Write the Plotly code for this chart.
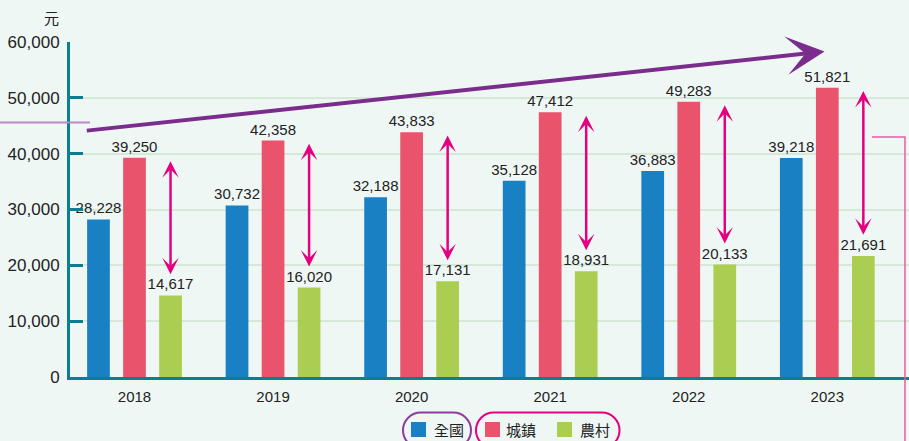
import plotly.graph_objects as go

# ---- data ----
years = ["2018", "2019", "2020", "2021", "2022", "2023"]
national = [28228, 30732, 32188, 35128, 36883, 39218]
urban = [39250, 42358, 43833, 47412, 49283, 51821]
rural = [14617, 16020, 17131, 18931, 20133, 21691]
series_names = ["全國", "城鎮", "農村"]
y_ticks = [0, 10000, 20000, 30000, 40000, 50000, 60000]
unit_label = "元"

# ---- style ----
BG = "#eff7f5"
BLUE = "#1a80c4"
RED = "#e9536c"
GREEN = "#abce52"
TEAL = "#0b7e92"
GRID = "#d6e9d8"
PINK = "#e4007f"
PURPLE = "#7b2d8d"
TXT = "#222222"
FONT = "Liberation Sans, Arial, Noto Sans CJK TC, sans-serif"
CJK = "Noto Sans CJK TC, Noto Sans CJK SC, sans-serif"
colors = [BLUE, RED, GREEN]

W, H = 909, 441
ML, MR, MT, MB = 70, 0, 42, 64
PW, PH = W - ML - MR, H - MT - MB

BAR_W = 0.164
SHIFT = 0.26

fig = go.Figure()
for vals, name, color, off in [
    (national, series_names[0], BLUE, -SHIFT),
    (urban, series_names[1], RED, 0.0),
    (rural, series_names[2], GREEN, SHIFT),
]:
    fig.add_trace(go.Bar(
        x=list(range(len(years))), y=vals, name=name,
        marker=dict(color=color, line=dict(width=0)),
        width=BAR_W, offset=off - BAR_W / 2,
        text=vals, texttemplate="%{y:,}", textposition="outside",
        textfont=dict(family=FONT, size=15, color=TXT),
        constraintext="none", cliponaxis=False, showlegend=False,
    ))


def px2paper(px, py):
    return (px - ML) / PW, (H - MB - py) / PH


shapes = []
# decorative connector lines
x0, y0 = px2paper(0, 122.5)
x1, _ = px2paper(90, 122.5)
shapes.append(dict(type="line", xref="paper", yref="paper", x0=x0, y0=y0, x1=x1, y1=y0,
                   line=dict(color="#b98ac5", width=2), layer="above"))
xa, ya = px2paper(872, 137)
xb, _ = px2paper(905, 137)
_, yc = px2paper(905, 445)
shapes.append(dict(type="path", xref="paper", yref="paper",
                   path=f"M{xa:.5f},{ya:.5f} L{xb:.5f},{ya:.5f} L{xb:.5f},{yc:.5f}",
                   line=dict(color="#ec5aa2", width=1.5), layer="above"))


def stadium(xl, xr, yt, yb, color):
    r = (yb - yt) / 2
    k = 0.5523 * r
    pts = [
        ("M", (xl + r, yt)),
        ("L", (xr - r, yt)),
        ("C", (xr - r + k, yt), (xr, yt + r - k), (xr, yt + r)),
        ("C", (xr, yt + r + k), (xr - r + k, yb), (xr - r, yb)),
        ("L", (xl + r, yb)),
        ("C", (xl + r - k, yb), (xl, yt + r + k), (xl, yt + r)),
        ("C", (xl, yt + r - k), (xl + r - k, yt), (xl + r, yt)),
    ]
    path = ""
    for item in pts:
        cmd = item[0]
        coords = " ".join("%.5f,%.5f" % px2paper(*p) for p in item[1:])
        path += f"{cmd}{coords} "
    return dict(type="path", xref="paper", yref="paper", path=path + "Z",
                line=dict(color=color, width=2), layer="above")


shapes.append(stadium(403, 471, 412.5, 448, "#8e3d9e"))
shapes.append(stadium(476, 619.5, 412.5, 448, PINK))

annotations = []
# legend (swatches + labels)
legend_sq_left = [411, 485, 557]
legend_txt_left = [432, 504, 578]
legend_cy = 429.5
SQ = 15
for i, name in enumerate(series_names):
    sx0, sy0 = px2paper(legend_sq_left[i], legend_cy + SQ / 2)
    sx1, sy1 = px2paper(legend_sq_left[i] + SQ, legend_cy - SQ / 2)
    shapes.append(dict(type="rect", xref="paper", yref="paper", x0=sx0, y0=sy0, x1=sx1, y1=sy1,
                       fillcolor=colors[i], line=dict(width=0), layer="above"))
    tx, ty = px2paper(legend_txt_left[i], legend_cy)
    annotations.append(dict(text=name, xref="paper", yref="paper", x=tx, y=ty,
                            showarrow=False, xanchor="left", yanchor="middle",
                            font=dict(family=CJK, size=15, color=TXT)))

# unit label
ux, uy = px2paper(51, 18)
annotations.append(dict(text=unit_label, xref="paper", yref="paper", x=ux, y=uy,
                        showarrow=False, font=dict(family=CJK, size=15, color=TXT),
                        xanchor="center", yanchor="middle"))
# gap arrows between urban and rural
for i in range(len(years)):
    annotations.append(dict(
        x=i + SHIFT, y=urban[i] - 600, ax=i + SHIFT, ay=rural[i] + 3500,
        xref="x", yref="y", axref="x", ayref="y", text="", showarrow=True,
        arrowside="end+start", arrowhead=3, startarrowhead=3,
        arrowsize=1.1, startarrowsize=1.1, arrowwidth=2.5, arrowcolor=PINK,
    ))
# trend arrow
annotations.append(dict(
    x=4.98, y=58300, ax=-0.355, ay=44100,
    xref="x", yref="y", axref="x", ayref="y", text="", showarrow=True,
    arrowhead=3, arrowsize=1.6, arrowwidth=4, arrowcolor=PURPLE,
))

fig.update_layout(
    width=W, height=H,
    margin=dict(l=ML, r=MR, t=MT, b=MB, pad=0, autoexpand=False),
    paper_bgcolor=BG, plot_bgcolor=BG,
    barmode="overlay",
    font=dict(family=FONT, color=TXT),
    showlegend=False,
    shapes=shapes,
    annotations=annotations,
    xaxis=dict(
        tickmode="array", tickvals=list(range(len(years))), ticktext=years,
        range=[-0.4655, 5.5896], showgrid=False, zeroline=False,
        showline=True, linecolor=TEAL, linewidth=3, ticks="",
        ticklabelstandoff=4,
        tickfont=dict(family=FONT, size=15, color=TXT),
    ),
    yaxis=dict(
        range=[0, 60000], tickvals=y_ticks, tickformat=",",
        showgrid=True, gridcolor=GRID, gridwidth=2, zeroline=False,
        showline=True, linecolor=TEAL, linewidth=3,
        ticks="inside", ticklen=13, tickwidth=2.5, tickcolor=TEAL,
        ticklabelstandoff=4,
        tickfont=dict(family=FONT, size=17, color=TXT),
    ),
)

fig.write_html(
    "out.html",
    config={"displayModeBar": False},
    post_script="document.body.style.margin='0';document.body.style.overflow='hidden';",
)
